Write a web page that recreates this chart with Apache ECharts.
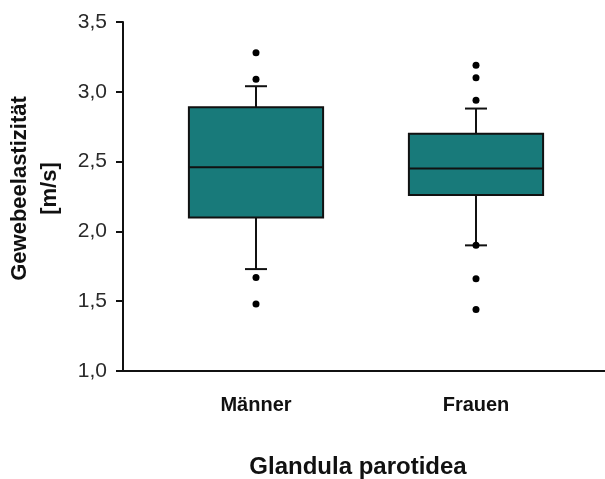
<!DOCTYPE html>
<html>
<head>
<meta charset="utf-8">
<script src="https://cdn.jsdelivr.net/npm/echarts@6/dist/echarts.min.js"></script>
<style>
  html, body { margin: 0; padding: 0; background: #fff; }
  #chart { width: 605px; height: 479px; }
</style>
</head>
<body>
<div id="chart"></div>
<script>
// Groups on the category axis
const categories = ['Männer', 'Frauen'];
// Five-number summaries: [lower whisker, Q1, median, Q3, upper whisker]
const maennerStats = [1.73, 2.10, 2.46, 2.89, 3.04];
const frauenStats = [1.90, 2.26, 2.45, 2.70, 2.88];
// Single points beyond the whiskers
const maennerOutliers = [3.28, 3.09, 1.67, 1.48];
const frauenOutliers = [3.19, 3.10, 2.94, 1.90, 1.66, 1.44];
// Value axis ticks
const yTicks = [1.0, 1.5, 2.0, 2.5, 3.0, 3.5];

const boxData = [maennerStats, frauenStats].map((s, i) => [i].concat(s));
const outlierData = []
  .concat(maennerOutliers.map(v => [0, v]))
  .concat(frauenOutliers.map(v => [1, v]));

const fillColor = '#187a7a';
const lineColor = '#111';

function renderBox(params, api) {
  const idx = api.value(0);
  const band = api.size([1, 0])[0];
  const half = band * 0.305;
  const capHalf = band * 0.05;
  const pLw = api.coord([idx, api.value(1)]);
  const pQ1 = api.coord([idx, api.value(2)]);
  const pMed = api.coord([idx, api.value(3)]);
  const pQ3 = api.coord([idx, api.value(4)]);
  const pUw = api.coord([idx, api.value(5)]);
  const x = pMed[0];
  const lineStyle = { stroke: lineColor, lineWidth: 2 };
  return {
    type: 'group',
    children: [
      { type: 'line', shape: { x1: x, y1: pQ3[1], x2: x, y2: pUw[1] }, style: lineStyle },
      { type: 'line', shape: { x1: x - capHalf, y1: pUw[1], x2: x + capHalf, y2: pUw[1] }, style: lineStyle },
      { type: 'line', shape: { x1: x, y1: pQ1[1], x2: x, y2: pLw[1] }, style: lineStyle },
      { type: 'line', shape: { x1: x - capHalf, y1: pLw[1], x2: x + capHalf, y2: pLw[1] }, style: lineStyle },
      { type: 'rect', shape: { x: x - half, y: pQ3[1], width: half * 2, height: pQ1[1] - pQ3[1] },
        style: { fill: fillColor, stroke: lineColor, lineWidth: 2 } },
      { type: 'line', shape: { x1: x - half, y1: pMed[1], x2: x + half, y2: pMed[1] }, style: lineStyle }
    ]
  };
}

const chart = echarts.init(document.getElementById('chart'), null, { renderer: 'canvas' });

const yRange = { min: yTicks[0], max: yTicks[yTicks.length - 1], interval: 0.5 };

chart.setOption({
  animation: false,
  backgroundColor: '#fff',
  grid: [
    { left: 123, right: 0, top: 22, bottom: 108, containLabel: false, outerBoundsMode: 'none' },
    { left: 146, right: 19, top: 22, bottom: 108, containLabel: false, outerBoundsMode: 'none' }
  ],
  xAxis: [
    {
      gridIndex: 0,
      type: 'category',
      data: categories,
      axisLine: { lineStyle: { color: lineColor, width: 2 } },
      axisTick: { show: false },
      axisLabel: { show: false },
      name: 'Glandula parotidea',
      nameLocation: 'middle',
      nameGap: 84,
      nameTextStyle: {
        fontFamily: 'Liberation Sans, Arial, sans-serif',
        fontWeight: 'bold', fontSize: 24, color: '#111',
        padding: [0, 12, 0, 0]
      }
    },
    {
      gridIndex: 1,
      type: 'category',
      data: categories,
      axisLine: { show: false },
      axisTick: { show: false },
      axisLabel: {
        margin: 24,
        fontFamily: 'Liberation Sans, Arial, sans-serif',
        fontWeight: 'bold', fontSize: 20, color: '#111'
      }
    }
  ],
  yAxis: [
    Object.assign({
      gridIndex: 0,
      type: 'value',
      splitLine: { show: false },
      axisLine: { show: true, lineStyle: { color: lineColor, width: 2 } },
      axisTick: { show: true, length: 7, lineStyle: { color: lineColor, width: 2 } },
      axisLabel: {
        margin: 16,
        fontFamily: 'Liberation Sans, Arial, sans-serif',
        fontSize: 21, color: '#2a2a2a',
        formatter: v => v.toFixed(1).replace('.', ',')
      },
      name: 'Gewebeelastizität\n[m/s]',
      nameLocation: 'middle',
      nameGap: 58,
      nameRotate: 90,
      nameTextStyle: {
        fontFamily: 'Liberation Sans, Arial, sans-serif',
        fontWeight: 'bold', fontSize: 22, color: '#111',
        lineHeight: 30,
        padding: [0, 0, 0, 16]
      }
    }, yRange),
    Object.assign({
      gridIndex: 1,
      type: 'value',
      show: false,
      splitLine: { show: false }
    }, yRange)
  ],
  series: [
    {
      type: 'custom',
      xAxisIndex: 1,
      yAxisIndex: 1,
      renderItem: renderBox,
      encode: { x: 0, y: [1, 2, 3, 4, 5] },
      data: boxData,
      z: 2
    },
    {
      type: 'scatter',
      xAxisIndex: 1,
      yAxisIndex: 1,
      symbol: 'circle',
      symbolSize: 7,
      itemStyle: { color: '#000', opacity: 1 },
      data: outlierData,
      z: 3
    }
  ]
});
</script>
</body>
</html>
